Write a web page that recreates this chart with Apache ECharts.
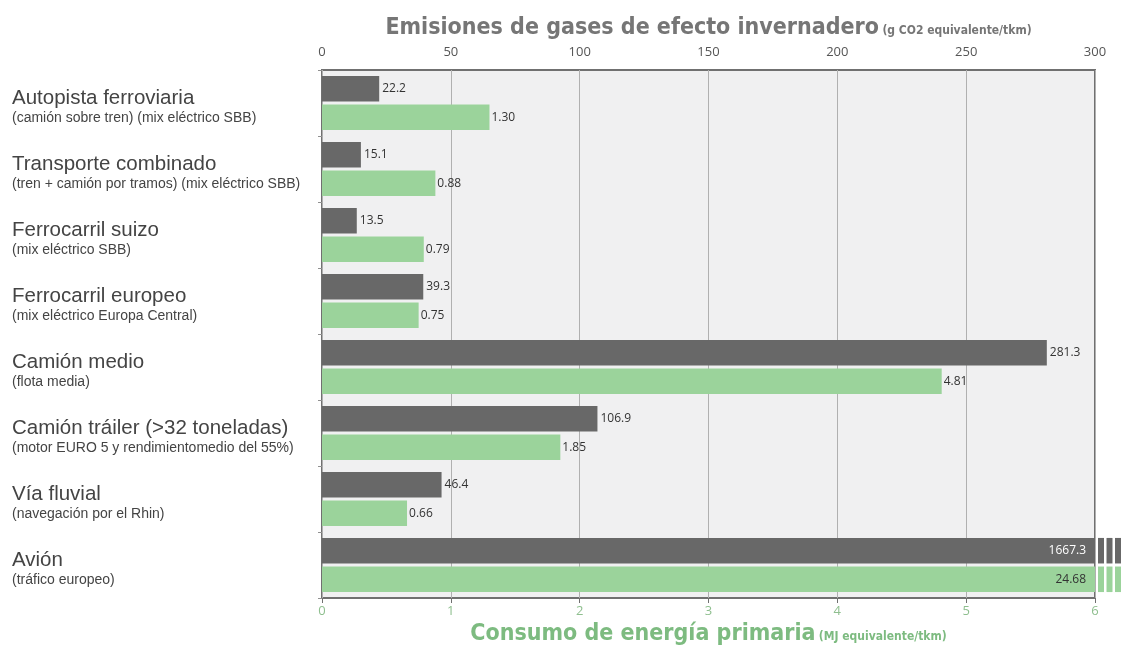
<!DOCTYPE html>
<html>
<head>
<meta charset="utf-8">
<script src="https://cdn.jsdelivr.net/npm/echarts@6/dist/echarts.min.js"></script>
<style>
  html, body { margin: 0; padding: 0; background: #fff; }
  #chart { width: 1122px; height: 647px; }
</style>
</head>
<body>
<div id="chart"></div>
<script>
// transport modes, top to bottom
const categories = [
  'Autopista ferroviaria', 'Transporte combinado', 'Ferrocarril suizo', 'Ferrocarril europeo',
  'Camión medio', 'Camión tráiler (>32 toneladas)', 'Vía fluvial', 'Avión',
];
const subtitles = [
  '(camión sobre tren) (mix eléctrico SBB)',
  '(tren + camión por tramos) (mix eléctrico SBB)',
  '(mix eléctrico SBB)',
  '(mix eléctrico Europa Central)',
  '(flota media)',
  '(motor EURO 5 y rendimientomedio del 55%)',
  '(navegación por el Rhin)',
  '(tráfico europeo)',
];
const co2 = [22.2, 15.1, 13.5, 39.3, 281.3, 106.9, 46.4, 1667.3];      // g CO2 eq / tkm
const energy = [1.30, 0.88, 0.79, 0.75, 4.81, 1.85, 0.66, 24.68];     // MJ eq / tkm
const co2Ticks = [0, 50, 100, 150, 200, 250, 300];
const energyTicks = [0, 1, 2, 3, 4, 5, 6];

const GRAY = '#686868';
const GREEN = '#9bd39b';
const CO2_MAX = co2Ticks[co2Ticks.length - 1];
const MJ_MAX = energyTicks[energyTicks.length - 1];
const CAT_GAP = 0.18, BAR_GAP = 0.12;

const NARROW = "'Liberation Sans Narrow', 'DejaVu Sans Condensed', 'Liberation Sans', sans-serif";
const SANS = "'Liberation Sans', Arial, sans-serif";
const NUM = "'Open Sans', sans-serif";

// overflow markers for bars that run past the axis
const overflow = [];
co2.forEach((v, i) => { if (v > CO2_MAX) overflow.push([CO2_MAX, i, 0]); });
energy.forEach((v, i) => { if (v > MJ_MAX) overflow.push([CO2_MAX, i, 1]); });

function renderBreak(params, api) {
  const p = api.coord([api.value(0), api.value(1)]);
  const band = api.size([0, 1])[1];
  const w = band * (1 - CAT_GAP) / (2 + BAR_GAP);
  const top = p[1] - (2 * w + BAR_GAP * w) / 2;
  const which = api.value(2);
  const y = which === 0 ? top : top + w + BAR_GAP * w;
  const color = which === 0 ? GRAY : GREEN;
  const children = [];
  for (let k = 0; k < 3; k++) {
    children.push({
      type: 'rect',
      shape: { x: p[0] + 3 + k * 8.5, y: y, width: 6, height: w },
      style: { fill: color },
    });
  }
  return { type: 'group', children };
}

const chart = echarts.init(document.getElementById('chart'), null, { renderer: 'canvas' });
chart.setOption({
  animation: false,
  textStyle: { fontFamily: SANS },
  grid: {
    left: 322, right: 27, top: 70, bottom: 49, outerBoundsMode: 'none',
    show: true, backgroundColor: '#f0f0f1', borderColor: '#707070', borderWidth: 2,
  },
  xAxis: [
    {
      type: 'value', position: 'top', min: 0, max: CO2_MAX, interval: 50,
      name: '{big|Emisiones de gases de efecto invernadero} {small|(g CO2 equivalente/tkm)}',
      nameLocation: 'middle', nameGap: 30,
      nameTextStyle: {
        rich: {
          big: { fontFamily: NARROW, fontSize: 23, color: '#767676', fontWeight: 'bold' },
          small: { fontFamily: NARROW, fontSize: 12, color: '#767676', fontWeight: 'bold', padding: [5, 0, 0, 0] },
        },
      },
      axisLine: { show: false },
      axisTick: { show: false },
      axisLabel: { color: '#555', fontFamily: NUM, fontSize: 13, margin: 11 },
      splitLine: { show: true, lineStyle: { color: '#b0b0b0', width: 1 } },
    },
    {
      type: 'value', position: 'bottom', min: 0, max: MJ_MAX, interval: 1,
      name: '{big|Consumo de energía primaria} {small|(MJ equivalente/tkm)}',
      nameLocation: 'middle', nameGap: 24,
      nameTextStyle: {
        rich: {
          big: { fontFamily: NARROW, fontSize: 23, color: '#7dbb80', fontWeight: 'bold' },
          small: { fontFamily: NARROW, fontSize: 12, color: '#7dbb80', fontWeight: 'bold', padding: [5, 0, 0, 0] },
        },
      },
      axisLine: { show: false },
      axisTick: { show: true, length: 5, lineStyle: { color: '#707070' } },
      axisLabel: { color: '#8fbf8f', fontFamily: NUM, fontSize: 13, margin: 7 },
      splitLine: { show: false },
    },
  ],
  yAxis: {
    type: 'category', data: categories, inverse: true,
    axisLine: { show: false },
    axisTick: { show: true, length: 4, lineStyle: { color: '#909090' } },
    axisLabel: {
      align: 'left', margin: 310, interval: 0,
      formatter: (v, i) => '{main|' + v + '}\n{sub|' + subtitles[i] + '}',
      rich: {
        main: { fontFamily: SANS, fontSize: 20.5, color: '#444', lineHeight: 22 },
        sub: { fontFamily: SANS, fontSize: 14, color: '#444', lineHeight: 17 },
      },
      padding: [8, 0, 0, 0],
    },
  },
  series: [
    {
      type: 'bar', xAxisIndex: 0,
      data: co2.map(v => v > CO2_MAX
        ? { value: v, label: { position: 'insideRight', color: '#fff', distance: 9 } }
        : v),
      barCategoryGap: (CAT_GAP * 100) + '%', barGap: (BAR_GAP * 100) + '%',
      itemStyle: { color: GRAY },
      label: {
        show: true, position: 'right', fontFamily: NUM, fontSize: 12, distance: 3,
        color: '#333', formatter: p => p.value.toFixed(1),
      },
    },
    {
      type: 'bar', xAxisIndex: 1,
      data: energy.map(v => v > MJ_MAX
        ? { value: v, label: { position: 'insideRight', color: '#333', distance: 9 } }
        : v),
      barCategoryGap: (CAT_GAP * 100) + '%', barGap: (BAR_GAP * 100) + '%',
      itemStyle: { color: GREEN },
      label: {
        show: true, position: 'right', fontFamily: NUM, fontSize: 12, distance: 2,
        color: '#333', formatter: p => p.value.toFixed(2),
      },
    },
    {
      type: 'custom', xAxisIndex: 0, clip: false, silent: true,
      renderItem: renderBreak, data: overflow, z: 1,
    },
  ],
});
</script>
</body>
</html>
